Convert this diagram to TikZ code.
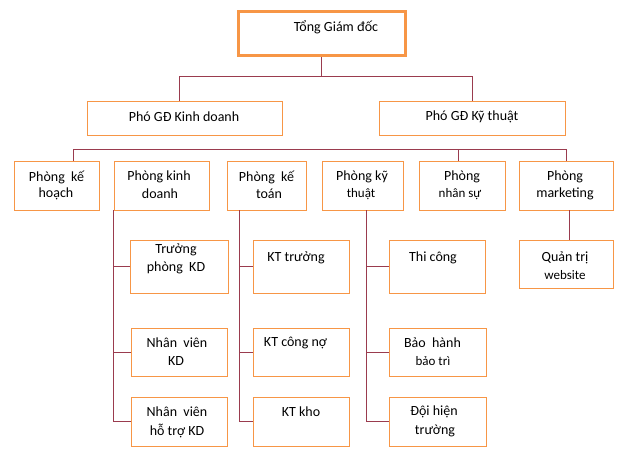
\documentclass[tikz,border=0pt]{standalone}
\usepackage{fontspec}
\setmainfont{Carlito}
\usetikzlibrary{fit}
\definecolor{boxorange}{HTML}{F79646}
\definecolor{linkred}{HTML}{9A3B4E}
\tikzset{
  box/.style={draw=boxorange, line width=0.9pt, inner sep=0pt, fill=white},
  topbox/.style={draw=boxorange, line width=3pt, inner sep=0pt, fill=white},
  lbl/.style={inner sep=0pt, font=\fontsize{14}{17}\selectfont},
  slbl/.style={inner sep=0pt, font=\fontsize{13}{16}\selectfont},
  link/.style={draw=linkred, line width=0.9pt}
}
\begin{document}
\begin{tikzpicture}[x=1pt,y=-1pt]
\useasboundingbox (0,0) rectangle (630,457);
% boxes
\node[topbox, fit={(238,12) (405,56)}] (tgd) {};
\node[box, fit={(87,101) (282,135)}] (pkd) {};
\node[box, fit={(379,101) (565,135)}] (pkt) {};
\node[box, fit={(14,161) (99,210)}] (kh) {};
\node[box, fit={(114,161) (209,210)}] (kd) {};
\node[box, fit={(227,161) (306,210)}] (kt) {};
\node[box, fit={(322,161) (403,210)}] (kth) {};
\node[box, fit={(419,161) (505,210)}] (ns) {};
\node[box, fit={(519,161) (613,210)}] (mk) {};
\node[box, fit={(130,240) (228,293)}] (tpkd) {};
\node[box, fit={(253,240) (349,293)}] (ktt) {};
\node[box, fit={(389,240) (485,293)}] (tc) {};
\node[box, fit={(519,240) (613,288)}] (qt) {};
\node[box, fit={(131,328) (227,376)}] (nvkd) {};
\node[box, fit={(253,328) (349,376)}] (ktcn) {};
\node[box, fit={(389,328) (486,376)}] (bh) {};
\node[box, fit={(131,397) (227,446)}] (nvht) {};
\node[box, fit={(253,397) (349,446)}] (ktk) {};
\node[box, fit={(389,397) (486,446)}] (dht) {};
% texts
\node[lbl] (t-tgd) at (336,27) {Tổng Giám đốc};
\node[lbl] (t-pkd) at (184,117) {Phó GĐ Kinh doanh};
\node[lbl] (t-pkt) at (472,117) {Phó GĐ Kỹ thuật};
\node[lbl] (t-kh1) at (56.5,177) {Phòng\ \ kế};
\node[lbl] (t-kh2) at (56,194) {hoạch};
\node[lbl] (t-kd1) at (159,177) {Phòng kinh};
\node[lbl] (t-kd2) at (160,194) {doanh};
\node[lbl] (t-kt1) at (266.5,177) {Phòng\ \ kế};
\node[lbl] (t-kt2) at (269,194) {toán};
\node[lbl] (t-kth1) at (362,177) {Phòng kỹ};
\node[slbl] (t-kth2) at (361,194) {thuật};
\node[lbl] (t-ns1) at (462,177) {Phòng};
\node[slbl] (t-ns2) at (460,194) {nhân sự};
\node[lbl] (t-mk1) at (565,177) {Phòng};
\node[lbl] (t-mk2) at (565,194) {marketing};
\node[lbl] (t-tp1) at (176,250) {Trưởng};
\node[lbl] (t-tp2) at (176,268) {phòng\ \ KD};
\node[lbl] (t-ktt) at (296,258) {KT trưởng};
\node[lbl] (t-tc) at (433,258) {Thi công};
\node[lbl] (t-qt1) at (565,258) {Quản trị};
\node[slbl] (t-qt2) at (565,275) {website};
\node[lbl] (t-nv1) at (177,343) {Nhân\ \ viên};
\node[lbl] (t-nv2) at (176,361) {KD};
\node[lbl] (t-ktcn) at (295.5,343) {KT công nợ};
\node[lbl] (t-bh1) at (432.5,343) {Bảo\ \ hành};
\node[slbl] (t-bh2) at (433,361) {bảo trì};
\node[lbl] (t-nh1) at (177,412) {Nhân\ \ viên};
\node[lbl] (t-nh2) at (177,431) {hỗ trợ KD};
\node[lbl] (t-ktk) at (301,412) {KT kho};
\node[lbl] (t-dh1) at (434,412) {Đội hiện};
\node[lbl] (t-dh2) at (435,431) {trường};
% connectors
\coordinate (bus1) at (322,76);
\coordinate (bus2) at (0,149);
\draw[link] (tgd.south) -- (tgd.south |- bus1);
\draw[link] ([xshift=-5.5pt]pkd.north) -- ([xshift=-5.5pt]pkd.north |- bus1) -- (pkt.north |- bus1) -- (pkt.north);
\draw[link] ([xshift=16.5pt]kh.north) -- ([xshift=16.5pt]kh.north |- bus2) -- (mk.north |- bus2) -- (mk.north);
\draw[link] ([xshift=-4pt]ns.north) -- ([xshift=-4pt]ns.north |- bus2);
% Phong kinh doanh branch
\draw[link] (kd.south west) -- (kd.south west |- nvht.west) -- (nvht.west);
\draw[link] (kd.south west |- tpkd.west) -- (tpkd.west);
\draw[link] (kd.south west |- nvkd.west) -- (nvkd.west);
% Phong ke toan branch
\coordinate (ktx) at ([xshift=13pt]kt.south west);
\draw[link] (ktx) -- (ktx |- ktk.west) -- (ktk.west);
\draw[link] (ktx |- ktt.west) -- (ktt.west);
\draw[link] (ktx |- ktcn.west) -- (ktcn.west);
% Phong ky thuat branch
\coordinate (kthx) at ([xshift=3.5pt]kth.south);
\draw[link] (kthx) -- (kthx |- dht.west) -- (dht.west);
\draw[link] (kthx |- tc.west) -- (tc.west);
\draw[link] (kthx |- bh.west) -- (bh.west);
% marketing
\draw[link] ([xshift=3pt]mk.south) -- ([xshift=3pt]mk.south |- qt.north);
\end{tikzpicture}
\end{document}
